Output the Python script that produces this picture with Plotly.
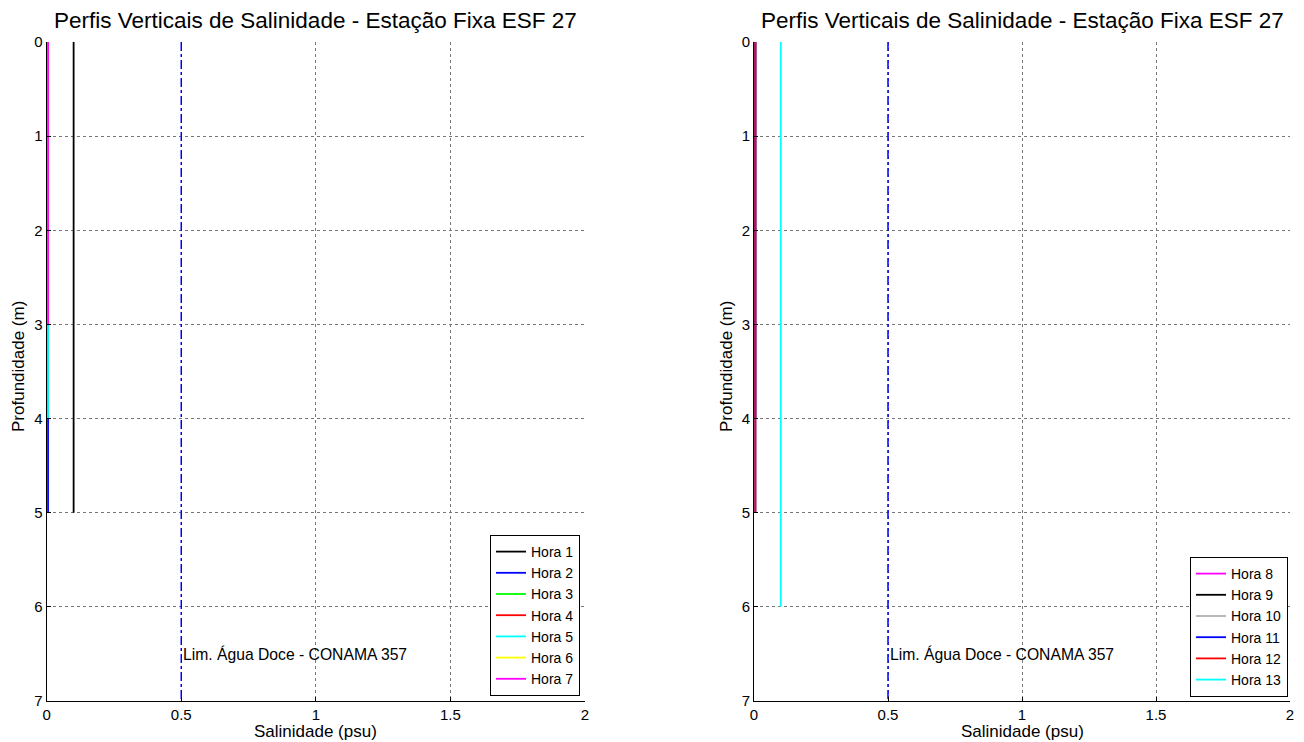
import plotly.graph_objects as go

# ---- data ----
left_labels = ["Hora 1", "Hora 2", "Hora 3", "Hora 4", "Hora 5", "Hora 6", "Hora 7"]
left_colors = ["#000000", "#0000ff", "#00ff00", "#ff0000", "#00ffff", "#ffff00", "#ff00ff"]
left_sal = [0.1, 0.005, 0.005, 0.005, 0.005, 0.005, 0.005]
left_depth_max = [5, 5, 4, 4, 4, 3, 3]

right_labels = ["Hora 8", "Hora 9", "Hora 10", "Hora 11", "Hora 12", "Hora 13"]
right_colors = ["#ff00ff", "#000000", "#b0b0b0", "#0000ff", "#ff0000", "#00ffff"]
right_sal = [0.005, 0.005, 0.005, 0.005, 0.005, 0.1]
right_depth_max = [4, 4, 5, 5, 5, 6]

limit_value = 0.5
limit_label = "Lim. Água Doce - CONAMA 357"
title_text = "Perfis Verticais de Salinidade - Estação Fixa ESF 27"
x_title = "Salinidade (psu)"
y_title = "Profundidade (m)"
x_ticks = [0, 0.5, 1, 1.5, 2]
x_ticklabels = ["0", "0.5", "1", "1.5", "2"]
y_ticks = [0, 1, 2, 3, 4, 5, 6, 7]

FONT = "Liberation Sans, Arial, sans-serif"
W, H = 1296, 734  # page has an 8px body margin


def px(xw):  # window x -> paper
    return (xw - 8) / W


def py(yw):  # window y -> paper
    return 1 - (yw - 8) / H


fig = go.Figure()

for lbl, col, s, d in zip(left_labels, left_colors, left_sal, left_depth_max):
    fig.add_trace(go.Scatter(x=[s, s], y=[0, d], mode="lines", name=lbl,
                             line=dict(color=col, width=1.8),
                             xaxis="x", yaxis="y", legend="legend"))
for lbl, col, s, d in zip(right_labels, right_colors, right_sal, right_depth_max):
    fig.add_trace(go.Scatter(x=[s, s], y=[0, d], mode="lines", name=lbl,
                             line=dict(color=col, width=1.8),
                             xaxis="x2", yaxis="y2", legend="legend2"))

for xa, ya in [("x", "y"), ("x2", "y2")]:
    fig.add_trace(go.Scatter(x=[limit_value, limit_value], y=[0, 7], mode="lines",
                             line=dict(color="#0000ff", width=1.5, dash="dashdot"),
                             showlegend=False, xaxis=xa, yaxis=ya, hoverinfo="skip"))
    fig.add_annotation(x=limit_value, y=6.5, xref=xa, yref=ya, text=limit_label,
                       showarrow=False, xanchor="left", yanchor="middle", xshift=0,
                       font=dict(family=FONT, size=15.7, color="black"))

axis_common = dict(showline=True, linecolor="#000000", linewidth=1, mirror=False,
                   showgrid=True, gridcolor="#777777", griddash="dot", gridwidth=1,
                   zeroline=False, ticks="inside", ticklen=4, tickcolor="#000000",
                   automargin=False,
                   tickfont=dict(family=FONT, size=15, color="black"))

ydom = [py(701), py(42)]
xdom1 = [px(46.7), px(585)]
xdom2 = [px(754), px(1290)]
fig.update_layout(
    width=W, height=H,
    margin=dict(l=0, r=0, t=0, b=0),
    paper_bgcolor="white", plot_bgcolor="white",
    font=dict(family=FONT, color="black"),
    xaxis=dict(domain=xdom1, range=[0, 2], tickvals=x_ticks, ticktext=x_ticklabels,
               anchor="y", **axis_common),
    yaxis=dict(domain=ydom, range=[7, 0], tickvals=y_ticks, anchor="x", **axis_common),
    xaxis2=dict(domain=xdom2, range=[0, 2], tickvals=x_ticks, ticktext=x_ticklabels,
                anchor="y2", **axis_common),
    yaxis2=dict(domain=ydom, range=[7, 0], tickvals=y_ticks, anchor="x2", **axis_common),
    legend=dict(x=px(580), y=py(696), xanchor="right", yanchor="bottom",
                bgcolor="white", bordercolor="#000000", borderwidth=1,
                font=dict(family=FONT, size=14, color="black"),
                tracegroupgap=0, itemwidth=30),
    legend2=dict(x=px(1288), y=py(697), xanchor="right", yanchor="bottom",
                 bgcolor="white", bordercolor="#000000", borderwidth=1,
                 font=dict(family=FONT, size=14, color="black"),
                 tracegroupgap=0, itemwidth=30),
    showlegend=True,
)

for xd, ytx in [(xdom1, 18), (xdom2, 726)]:
    xc = (xd[0] + xd[1]) / 2
    fig.add_annotation(x=xc, y=py(21), xref="paper", yref="paper",
                       text=title_text, showarrow=False, xanchor="center", yanchor="middle",
                       font=dict(family=FONT, size=22.5, color="black"))
    fig.add_annotation(x=xc, y=py(731), xref="paper", yref="paper",
                       text=x_title, showarrow=False, xanchor="center", yanchor="middle",
                       font=dict(family=FONT, size=17, color="black"))
    fig.add_annotation(x=px(ytx), y=py(367), xref="paper", yref="paper",
                       text=y_title, showarrow=False, xanchor="center", yanchor="middle",
                       textangle=-90, font=dict(family=FONT, size=17, color="black"))

fig.write_html("out.html")
